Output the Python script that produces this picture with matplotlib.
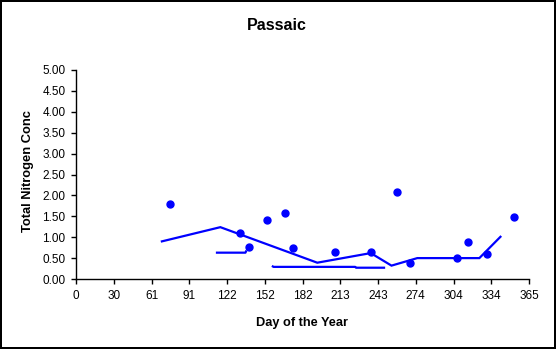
import numpy as np
import matplotlib
matplotlib.use("Agg")
import matplotlib.pyplot as plt

plt.rcParams['font.family'] = ['Liberation Sans', 'DejaVu Sans']

# Measured samples
sample_day = [76, 132.5, 139.7, 153.5, 168.8, 174.5, 209, 238, 259, 269.5, 306.7, 315.6, 331, 352.7]
sample_conc = [1.80, 1.11, 0.77, 1.40, 1.59, 0.75, 0.65, 0.65, 2.09, 0.39, 0.51, 0.89, 0.61, 1.49]

# Smoothed trend
trend_day = [69.2, 116.3, 194.4, 237.5, 254.2, 275, 325, 342]
trend_conc = [0.90, 1.24, 0.39, 0.62, 0.32, 0.50, 0.50, 1.01]

# Seasonal baseline (broken segments)
base_day = [113.6, 136.5, 137.0, np.nan, 158.6, 159.2, 225.0, 225.6, 248.2]
base_conc = [0.63, 0.63, 0.66, np.nan, 0.30, 0.29, 0.29, 0.27, 0.27]

tick_days = np.arange(13) * 365 / 12
tick_labels = ["0", "30", "61", "91", "122", "152", "182", "213", "243", "274", "304", "334", "365"]
y_ticks = np.arange(0, 5.01, 0.5)

blue = "#0000FF"

fig = plt.figure(figsize=(5.56, 3.49), dpi=100)
fig.patch.set_facecolor("white")
fig.patch.set_edgecolor("black")
fig.patch.set_linewidth(1.5)

ax = fig.add_axes([76 / 556, 70 / 349, 453 / 556, 209 / 349])
ax.set_xlim(0, 365)
ax.set_ylim(0, 5)

ax.plot(trend_day, trend_conc, color=blue, lw=1.6, solid_joinstyle="miter")
ax.plot(base_day, base_conc, color=blue, lw=1.6)
ax.plot(sample_day, sample_conc, "o", color=blue, ms=5, mec=blue)

for s in ("top", "right"):
    ax.spines[s].set_visible(False)
for s in ("left", "bottom"):
    ax.spines[s].set_linewidth(1.0)
    ax.spines[s].set_color("black")

ax.set_xticks(tick_days)
ax.set_xticklabels(tick_labels)
ax.set_yticks(y_ticks)
ax.set_yticklabels([f"{v:.2f}" for v in y_ticks])
ax.tick_params(axis="both", direction="out", length=3.6, width=1, labelsize=8.5, pad=4)

ax.set_xlabel("Day of the Year", fontsize=9.2, fontweight="bold", labelpad=11)
ax.set_ylabel("Total Nitrogen Conc", fontsize=9.3, fontweight="bold", va="center")
ax.yaxis.set_label_coords(-(76 - 28) / 453, (279 - 171) / 209, transform=ax.transAxes)
fig.text(277 / 556, 1 - 25 / 349, "Passaic", ha="center", va="center", fontsize=11.5, fontweight="bold")

fig.savefig("out.png", dpi=100, facecolor=fig.get_facecolor(), edgecolor=fig.get_edgecolor())
